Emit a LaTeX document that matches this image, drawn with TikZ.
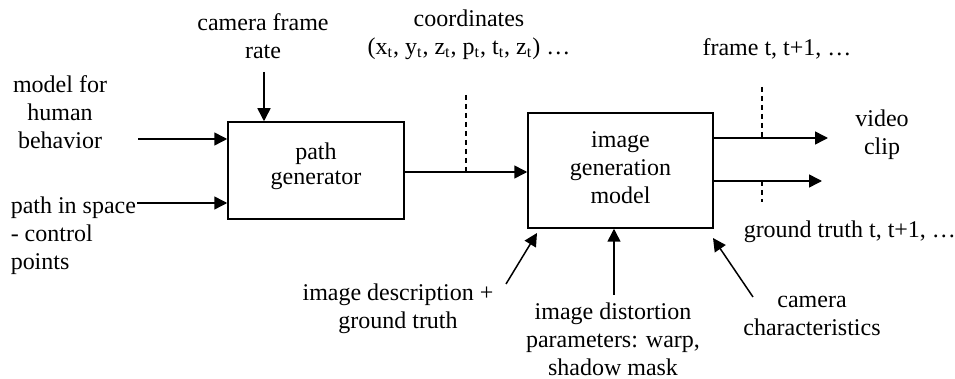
\documentclass[tikz,border=0pt]{standalone}
\usepackage{fontspec}
\setmainfont{Liberation Serif}
\usetikzlibrary{arrows.meta}

\begin{document}
\begin{tikzpicture}[x=0.5pt,y=-0.5pt,line width=0.75pt,
  >={Triangle[length=6.5pt,width=6.5pt]},
  every node/.style={font=\fontsize{12}{14}\selectfont,inner sep=0pt,align=center},
  blk/.style={draw,line width=0.75pt}]
\useasboundingbox (0,0) rectangle (955,379);
\tikzset{cut/.style={dash pattern=on 2.5pt off 2pt}}
% --- blocks ---
\node[blk,minimum width=88pt,minimum height=48.5pt] (pathgen) at (316,170.5) {};
\node[font=\fontsize{12}{12.5}\selectfont] (pathlbl) at (316,166) {path\\generator};
\node[blk,minimum width=92.5pt,minimum height=57.5pt] (imggen) at (620.5,170.5) {};
\node (imglbl) at (620.5,168) {image\\generation\\model};

% --- inputs of the path generator ---
\node (fps) at (263,36) {camera frame\\rate};
\coordinate (fpsin) at (264,72);
\draw[->] (fpsin) -- (fpsin |- pathgen.north);
\node (behav) at (60,112.5) {model for\\human\\behavior};
\coordinate (behavin) at (138,139);
\draw[->] (behavin) -- (behavin -| pathgen.west);
\node[align=left,anchor=west] (space) at (10,236) {path in space\\- control\\points};
\coordinate (spacein) at (137,203);
\draw[->] (spacein) -- (spacein -| pathgen.west);

% --- coordinates go to the image model ---
\coordinate (link) at (404,172);
\draw[->] (link) -- (link -| imggen.west);
\coordinate (cutA) at (466,95);
\draw[cut] (cutA) -- (cutA |- link);
\node (coords) at (469,34.5) {coordinates\\(x\textsubscript{t}, y\textsubscript{t}, z\textsubscript{t}, p\textsubscript{t}, t\textsubscript{t}, z\textsubscript{t}) …};

% --- outputs ---
\coordinate (vidout) at (828,138);
\coordinate (gtout) at (822,181);
\draw[->] (vidout -| imggen.east) -- (vidout);
\draw[->] (gtout -| imggen.east) -- (gtout);
\coordinate (cutB) at (762,87);
\coordinate (cutC) at (762,202);
\draw[cut] (cutB) -- (cutB |- vidout);
\draw[cut] (cutC |- gtout) -- (cutC);
\node (frames) at (777,49) {frame t, t+1, …};
\node (clip) at (882,135) {video\\clip};
\node[anchor=west] (gtlbl) at (743,232) {ground truth t, t+1, …};

% --- inputs of the image model ---
\node (desc) at (398,309) {image description +\\ground truth};
\coordinate (descin) at (506,284);
\coordinate (desctip) at (537,233);
\draw[->] (descin) -- (desctip);
\node (distort) at (613,339) {image distortion\\parameters: warp,\\shadow mask};
\coordinate (distin) at (614,295);
\draw[->] (distin) -- (distin |- imggen.south);
\node (camchar) at (812,316) {camera\\characteristics};
\coordinate (camin) at (753,297);
\coordinate (camtip) at (713,238);
\draw[->] (camin) -- (camtip);
\end{tikzpicture}
\end{document}
